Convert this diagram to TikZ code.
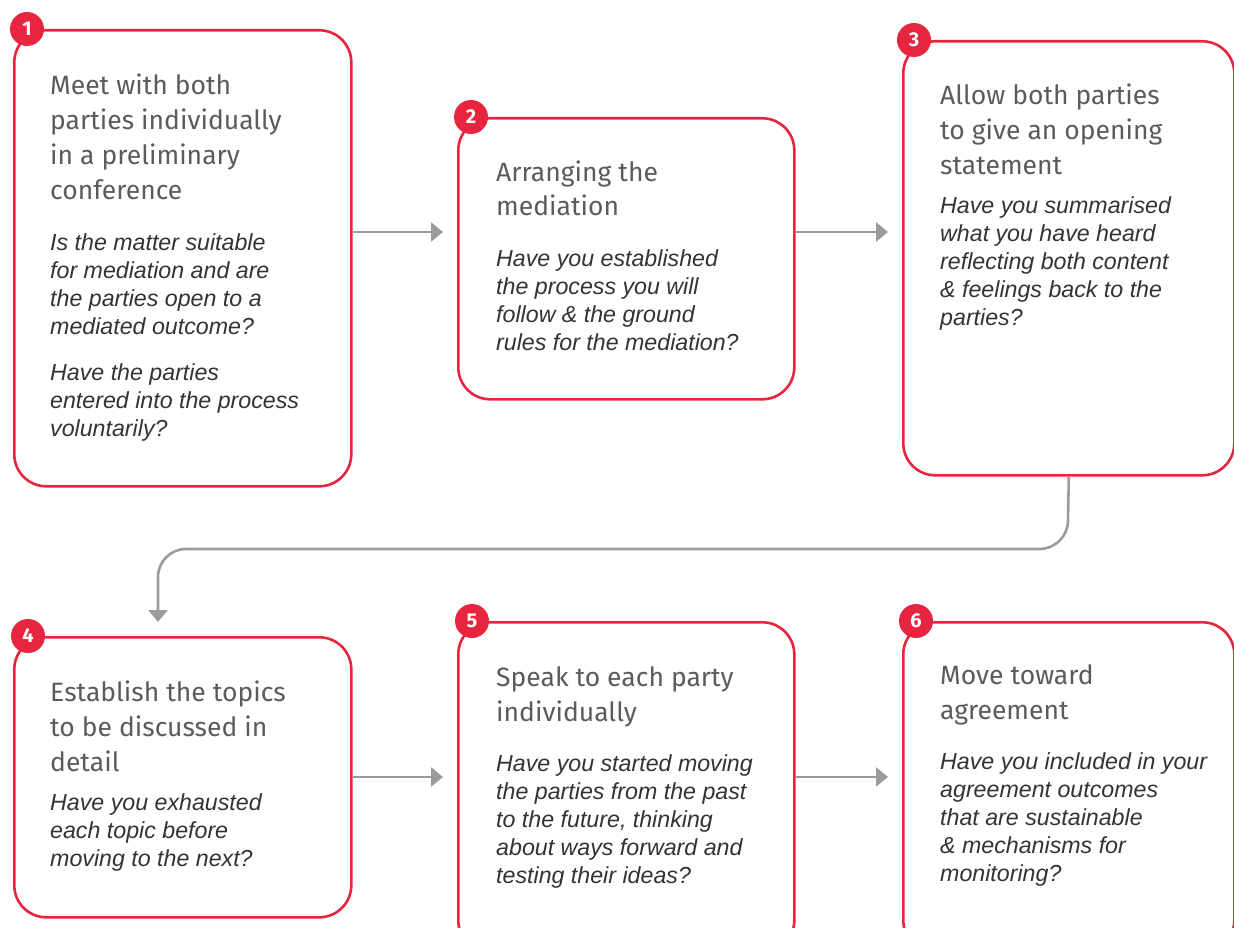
\documentclass[tikz,border=0pt]{standalone}
\usepackage{fontspec}
\newfontfamily\titlefont{Fira Sans}
\newfontfamily\bodyfont{Liberation Sans}
\usetikzlibrary{arrows.meta}
\definecolor{mred}{HTML}{E8253F}
\definecolor{mgray}{HTML}{9B9B9D}
\definecolor{ttext}{HTML}{5B5B5E}
\definecolor{btext}{HTML}{333333}
\begin{document}
\begin{tikzpicture}[x=1pt,y=-1pt,
 stepbox/.style={draw=mred, line width=2.6pt, rounded corners=32pt, inner sep=0pt, anchor=north west},
 badge/.style={circle, fill=mred, minimum size=34pt, inner sep=0pt, text=white, font=\titlefont\bfseries\fontsize{20}{20}\selectfont},
 ttl/.style={anchor=base west, align=left, inner sep=0pt, text=ttext, font=\titlefont\fontsize{26.5}{35}\selectfont},
 body/.style={anchor=base west, align=left, inner sep=0pt, text=btext, font=\bodyfont\itshape\fontsize{23.2}{28}\selectfont},
 arr/.style={draw=mgray, line width=2.6pt, -{Triangle[length=12pt,width=19pt]}}
]
\clip (0,0) rectangle (1234,928);
% boxes
\node[stepbox, minimum width=337pt, minimum height=456pt] (b1) at (13,29) {};
\node[stepbox, minimum width=336pt, minimum height=281pt] (b2) at (457,117) {};
\node[stepbox, minimum width=331pt, minimum height=434pt] (b3) at (902,40) {};
\node[stepbox, minimum width=337pt, minimum height=280pt] (b4) at (13,636) {};
\node[stepbox, minimum width=336pt, minimum height=330pt] (b5) at (457,621) {};
\node[stepbox, minimum width=331pt, minimum height=330pt] (b6) at (902,621) {};
% badges
\node[badge] (n1) at (b1.north west) [xshift=14pt] {1};
\node[badge] (n2) at (b2.north west) [xshift=14pt] {2};
\node[badge] (n3) at (b3.north west) [xshift=12pt] {3};
\node[badge] (n4) at (b4.north west) [xshift=15pt] {4};
\node[badge] (n5) at (b5.north west) [xshift=15pt] {5};
\node[badge] (n6) at (b6.north west) [xshift=14pt] {6};
% texts (anchored at the baseline of their last line)
\node[ttl] (t1) at (50,200) {Meet with both\\parties individually\\in a preliminary\\conference};
\node[body] (q1a) at (50,334) {Is the matter suitable\\for mediation and are\\the parties open to a\\mediated outcome?};
\node[body] (q1b) at (50,436) {Have the parties\\entered into the process\\voluntarily?};
\node[ttl] (t2) at (496,216) {Arranging the\\mediation};
\node[body] (q2) at (496,350) {Have you established\\the process you will\\follow \& the ground\\rules for the mediation?};
\node[ttl] (t3) at (940,175) {Allow both parties\\to give an opening\\statement};
\node[body] (q3) at (940,325) {Have you summarised\\what you have heard\\reflecting both content\\\& feelings back to the\\parties?};
\node[ttl] (t4) at (50,771) {Establish the topics\\to be discussed in\\detail};
\node[body] (q4) at (50,866) {Have you exhausted\\each topic before\\moving to the next?};
\node[ttl] (t5) at (496,721) {Speak to each party\\individually};
\node[body] (q5) at (496,883) {Have you started moving\\the parties from the past\\to the future, thinking\\about ways forward and\\testing their ideas?};
\node[ttl] (t6) at (940,719) {Move toward\\agreement};
\node[body] (q6) at (940,881) {Have you included in your\\agreement outcomes\\that are sustainable\\\& mechanisms for\\monitoring?};
% connectors
\coordinate (r1) at (0,232);
\coordinate (r2) at (0,777);
\coordinate (c1) at (1067.5,549);
\coordinate (c2) at (158,549);
\draw[arr, shorten >=14pt] (b1.east |- r1) -- (b2.west |- r1);
\draw[arr, shorten >=14pt] (b2.east |- r1) -- (b3.west |- r1);
\draw[arr, shorten >=14pt] (b4.east |- r2) -- (b5.west |- r2);
\draw[arr, shorten >=14pt] (b5.east |- r2) -- (b6.west |- r2);
\draw[arr, rounded corners=28pt, shorten >=14pt] (b3.south) -- (c1) -- (c2) -- (c2 |- b4.north);
\end{tikzpicture}
\end{document}
